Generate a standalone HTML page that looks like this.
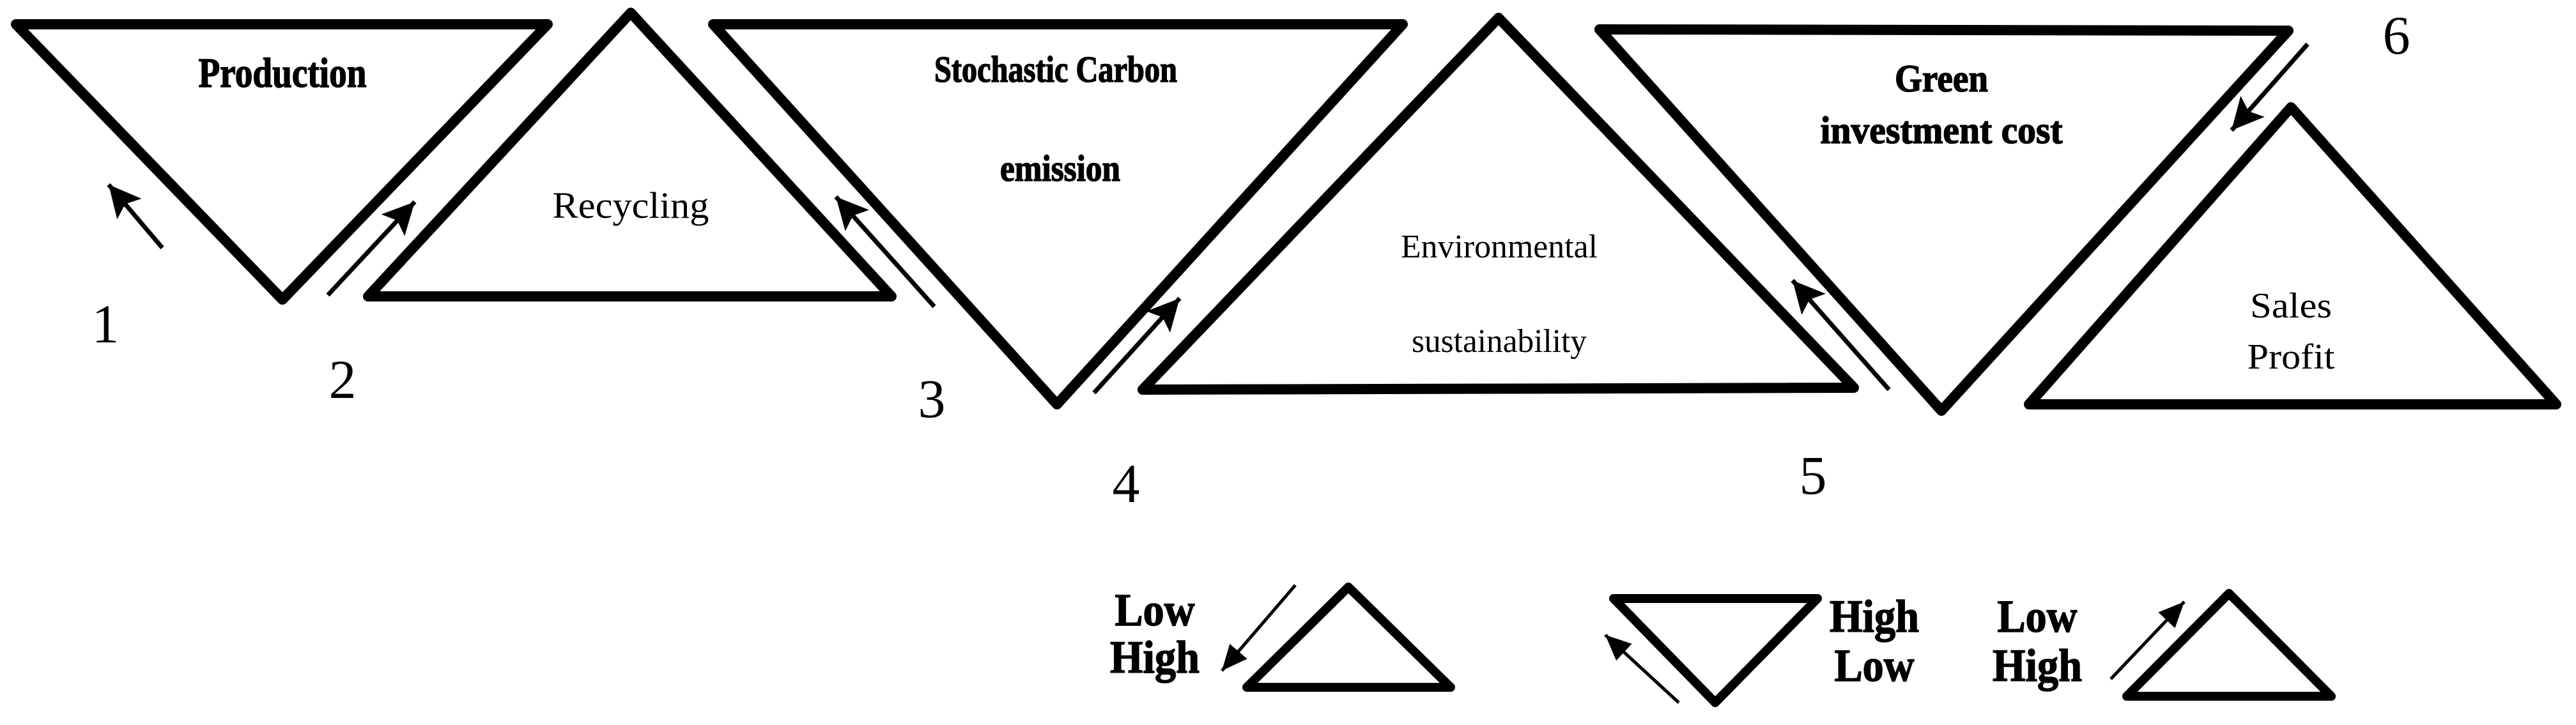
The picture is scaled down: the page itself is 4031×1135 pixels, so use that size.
<!DOCTYPE html>
<html><head><meta charset="utf-8"><style>
html,body{margin:0;padding:0;background:#fff;}
svg{display:block;}
text{font-family:"Liberation Serif",serif;fill:#000;}
.b{font-weight:bold;stroke:#000;stroke-width:1.5;}
</style></head><body>
<svg width="4031" height="1135" viewBox="0 0 4031 1135" xmlns="http://www.w3.org/2000/svg">
<defs>
<marker id="ah" markerUnits="userSpaceOnUse" markerWidth="60" markerHeight="60" refX="50" refY="25" orient="auto">
<path d="M0,0 L50,25 L0,50 L10,25 Z" fill="#000"/>
</marker>
<marker id="ahs" markerUnits="userSpaceOnUse" markerWidth="50" markerHeight="50" refX="40" refY="18" orient="auto">
<path d="M0,0 L40,18 L0,36 Z" fill="#000"/>
</marker>
</defs>
<g fill="none" stroke="#000" stroke-width="16" stroke-linejoin="round">
<polygon points="25,38 857,38 442,469"/>
<polygon points="987,20 576,464 1395,464"/>
<polygon points="1116,38 2195,38 1654,633"/>
<polygon points="2345,28 1788,610 2901,607"/>
<polygon points="2503,46 3581,48 3038,643"/>
<polygon points="3585,168 3175,633 4000,633"/>
<polygon points="2110,919 1951,1076 2270,1076" stroke-width="14"/>
<polygon points="2525,937 2844,937 2684,1100" stroke-width="14"/>
<polygon points="3488,929 3328,1090 3648,1090" stroke-width="14"/>
</g>
<g stroke="#000" stroke-width="7" fill="none" marker-end="url(#ah)">
<line x1="254" y1="388" x2="170" y2="289"/>
<line x1="513" y1="462" x2="649" y2="316"/>
<line x1="1462" y1="480" x2="1308" y2="308"/>
<line x1="1712" y1="615" x2="1846" y2="467"/>
<line x1="2956" y1="610" x2="2805" y2="439"/>
<line x1="3611" y1="69" x2="3492" y2="204"/>
</g>
<g stroke="#000" stroke-width="5" fill="none" marker-end="url(#ahs)">
<line x1="2027" y1="916" x2="1912" y2="1050"/>
<line x1="2627" y1="1100" x2="2512" y2="994"/>
<line x1="3303" y1="1063" x2="3418" y2="942"/>
</g>
<g text-anchor="middle">
<text class="b" x="442" y="136" font-size="66" textLength="263" lengthAdjust="spacingAndGlyphs">Production</text>
<text x="987" y="341" font-size="58" textLength="245" lengthAdjust="spacingAndGlyphs">Recycling</text>
<text class="b" x="1652" y="128" font-size="58" textLength="380" lengthAdjust="spacingAndGlyphs">Stochastic Carbon</text>
<text class="b" x="1659" y="283" font-size="58" textLength="188" lengthAdjust="spacingAndGlyphs">emission</text>
<text x="2346" y="403" font-size="52" textLength="308" lengthAdjust="spacingAndGlyphs">Environmental</text>
<text x="2346" y="551" font-size="52" textLength="274" lengthAdjust="spacingAndGlyphs">sustainability</text>
<text class="b" x="3038" y="143" font-size="60" textLength="146" lengthAdjust="spacingAndGlyphs">Green</text>
<text class="b" x="3038" y="224" font-size="60" textLength="379" lengthAdjust="spacingAndGlyphs">investment cost</text>
<text x="3585" y="497" font-size="56" textLength="128" lengthAdjust="spacingAndGlyphs">Sales</text>
<text x="3585" y="577" font-size="56" textLength="137" lengthAdjust="spacingAndGlyphs">Profit</text>
<text x="165" y="536" font-size="86">1</text>
<text x="536" y="623" font-size="86">2</text>
<text x="1458" y="653" font-size="86">3</text>
<text x="1762" y="786" font-size="86">4</text>
<text x="2837" y="773" font-size="86">5</text>
<text x="3750" y="84" font-size="86">6</text>
<text class="b" x="1807" y="979" font-size="72" textLength="125" lengthAdjust="spacingAndGlyphs">Low</text>
<text class="b" x="1807" y="1053" font-size="72" textLength="140" lengthAdjust="spacingAndGlyphs">High</text>
<text class="b" x="2933" y="989" font-size="72" textLength="140" lengthAdjust="spacingAndGlyphs">High</text>
<text class="b" x="2933" y="1066" font-size="72" textLength="125" lengthAdjust="spacingAndGlyphs">Low</text>
<text class="b" x="3188" y="989" font-size="72" textLength="125" lengthAdjust="spacingAndGlyphs">Low</text>
<text class="b" x="3188" y="1066" font-size="72" textLength="140" lengthAdjust="spacingAndGlyphs">High</text>
</g>
</svg>
</body></html>
